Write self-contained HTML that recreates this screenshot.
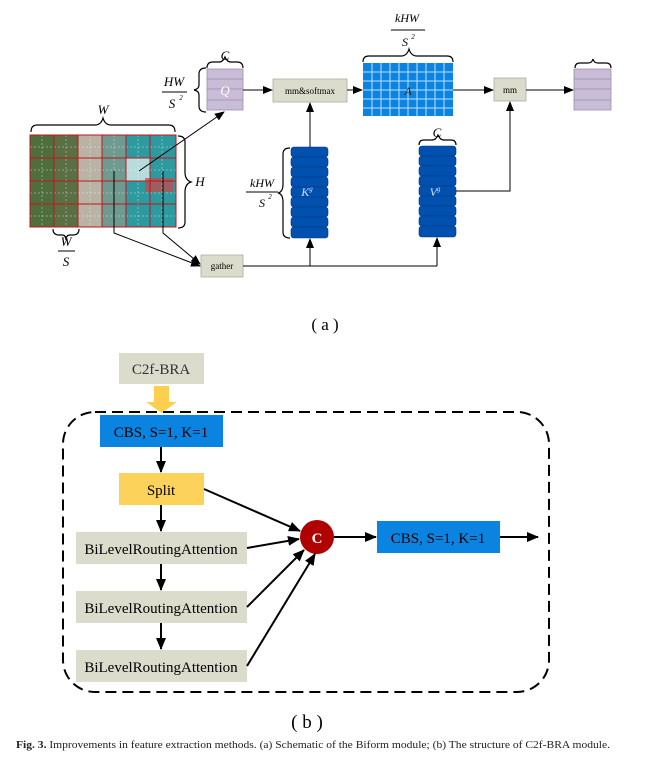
<!DOCTYPE html>
<html><head><meta charset="utf-8"><style>
html,body{margin:0;padding:0;background:#fff;}
svg{display:block;font-family:"Liberation Serif",serif;}
</style></head><body>
<svg width="647" height="763" viewBox="0 0 647 763" xmlns="http://www.w3.org/2000/svg">
<defs>
<marker id="ah" markerWidth="10" markerHeight="8" refX="9" refY="4" orient="auto" markerUnits="userSpaceOnUse"><path d="M0,0 L10,4 L0,8 z" fill="#000"/></marker>
<marker id="ah2" markerWidth="12" markerHeight="10" refX="11" refY="5" orient="auto" markerUnits="userSpaceOnUse"><path d="M0,0 L12,5 L0,10 z" fill="#000"/></marker>
</defs>
<!-- ===== (a) ===== -->
<rect x="30" y="135" width="24" height="92" fill="#4f6e3e"/>
<rect x="54" y="135" width="24" height="92" fill="#5b6f44"/>
<rect x="78" y="135" width="24" height="92" fill="#b9b3a6"/>
<rect x="102" y="135" width="24" height="92" fill="#6f9a8f"/>
<rect x="126" y="135" width="50" height="92" fill="#2d9aa0"/>
<rect x="126" y="158" width="24" height="23" fill="#b8dcdc"/>
<rect x="145" y="178" width="28" height="14" fill="#c44" opacity="0.7"/>
<g stroke="#fff" stroke-width="0.5" stroke-dasharray="2,2" opacity="0.7">
<line x1="42" y1="135" x2="42" y2="227"/><line x1="66" y1="135" x2="66" y2="227"/><line x1="90" y1="135" x2="90" y2="227"/><line x1="114" y1="135" x2="114" y2="227"/><line x1="138" y1="135" x2="138" y2="227"/><line x1="162" y1="135" x2="162" y2="227"/>
<line x1="30" y1="147" x2="176" y2="147"/><line x1="30" y1="170" x2="176" y2="170"/><line x1="30" y1="193" x2="176" y2="193"/><line x1="30" y1="216" x2="176" y2="216"/>
</g>
<g stroke="#c0161c" stroke-width="1" fill="none">
<rect x="30" y="135" width="146" height="92"/>
<line x1="54" y1="135" x2="54" y2="227"/><line x1="78" y1="135" x2="78" y2="227"/><line x1="102" y1="135" x2="102" y2="227"/><line x1="126" y1="135" x2="126" y2="227"/><line x1="150" y1="135" x2="150" y2="227"/>
<line x1="30" y1="158" x2="176" y2="158"/><line x1="30" y1="181" x2="176" y2="181"/><line x1="30" y1="204" x2="176" y2="204"/>
</g>
<g fill="none" stroke="#000" stroke-width="1.2">
<path d="M31,132 q0,-7 6,-7 h58 q6,0 8,-7 q2,7 8,7 h58 q6,0 6,7"/>
<path d="M178,136 q7,0 7,6 v30 q0,8 6,10 q-6,2 -6,10 v30 q0,6 -7,6"/>
<path d="M53,229 q0,6 6,6 h3 q4,0 4,5 q0,-5 4,-5 h3 q6,0 6,-6"/>
<path d="M206,68 q-7,0 -7,6 v11 q0,4 -5,5 q5,1 5,5 v11 q0,6 7,6"/>
<path d="M207,68 q0,-6 6,-6 h6 q4,0 6,-5 q2,5 6,5 h6 q6,0 6,6"/>
<path d="M290,148 q-7,0 -7,6 v30 q0,8 -5,9 q5,1 5,9 v30 q0,6 7,6"/>
<path d="M363,62 q0,-6 6,-6 h32 q6,0 8,-7 q2,7 8,7 h30 q6,0 6,6"/>
<path d="M419,145 q0,-5 5,-5 h8 q4,0 6,-5 q2,5 6,5 h7 q5,0 5,5"/>
<path d="M575,68 q0,-5 5,-5 h8 q4,0 5,-4 q1,4 5,4 h8 q5,0 5,5"/>
</g>
<g font-style="italic" font-size="13" text-anchor="middle">
<text x="103" y="114">W</text>
<text x="200" y="186">H</text>
<text x="66" y="246">W</text><line x1="58" y1="251" x2="75" y2="251" stroke="#000"/><text x="66" y="266">S</text>
<text x="174" y="86">HW</text><line x1="162" y1="92" x2="187" y2="92" stroke="#000"/><text x="172" y="108">S</text><text x="181" y="100" font-size="7">2</text>
<text x="225" y="60">C</text>
<text x="262" y="187" font-size="12">kHW</text><line x1="246" y1="192" x2="278" y2="192" stroke="#000"/><text x="262" y="207" font-size="12">S</text><text x="270" y="199" font-size="7">2</text>
<text x="407" y="22" font-size="12">kHW</text><line x1="391" y1="30" x2="425" y2="30" stroke="#000"/><text x="405" y="46" font-size="12">S</text><text x="413" y="39" font-size="7">2</text>
<text x="437" y="137">C</text>
</g>
<rect x="207" y="69" width="36" height="41" fill="#c8bcd6" stroke="#9a8fae" stroke-width="0.8"/>
<g stroke="#9a8fae" stroke-width="0.8"><line x1="207" y1="79" x2="243" y2="79"/><line x1="207" y1="89" x2="243" y2="89"/><line x1="207" y1="100" x2="243" y2="100"/></g>
<text x="225" y="95" font-style="italic" font-size="13" fill="#fff" text-anchor="middle">Q</text>
<rect x="574" y="69" width="37" height="41" fill="#c8bcd6" stroke="#9a8fae" stroke-width="0.8"/>
<g stroke="#9a8fae" stroke-width="0.8"><line x1="574" y1="79" x2="611" y2="79"/><line x1="574" y1="89" x2="611" y2="89"/><line x1="574" y1="100" x2="611" y2="100"/></g>
<rect x="273" y="79" width="74" height="23" fill="#dcdccc" stroke="#a8b0a0" stroke-width="0.8"/>
<text x="310" y="94" font-size="9" text-anchor="middle">mm&amp;softmax</text>
<rect x="494" y="78" width="32" height="23" fill="#dcdccc" stroke="#a8b0a0" stroke-width="0.8"/>
<text x="510" y="93" font-size="9" text-anchor="middle">mm</text>
<rect x="201" y="255" width="42" height="22" fill="#dcdccc" stroke="#a8b0a0" stroke-width="0.8"/>
<text x="222" y="269" font-size="9" text-anchor="middle">gather</text>
<rect x="363" y="63" width="90" height="53" fill="#0a84e0"/>
<g stroke="#bfe0f8" stroke-width="1">
<line x1="372" y1="63" x2="372" y2="116"/><line x1="381" y1="63" x2="381" y2="116"/><line x1="390" y1="63" x2="390" y2="116"/><line x1="399" y1="63" x2="399" y2="116"/><line x1="408" y1="63" x2="408" y2="116"/><line x1="417" y1="63" x2="417" y2="116"/><line x1="426" y1="63" x2="426" y2="116"/><line x1="435" y1="63" x2="435" y2="116"/><line x1="444" y1="63" x2="444" y2="116"/>
<line x1="363" y1="72" x2="453" y2="72"/><line x1="363" y1="81" x2="453" y2="81"/><line x1="363" y1="90" x2="453" y2="90"/><line x1="363" y1="99" x2="453" y2="99"/><line x1="363" y1="108" x2="453" y2="108"/>
</g>
<text x="408" y="95" font-style="italic" font-size="12" fill="#222" text-anchor="middle">A</text>
<g fill="#0050b0" stroke="#003a80" stroke-width="0.6">
<rect x="291" y="147" width="37" height="10" rx="3"/><rect x="291" y="157" width="37" height="10" rx="3"/><rect x="291" y="167" width="37" height="10" rx="3"/><rect x="291" y="177" width="37" height="10" rx="3"/><rect x="291" y="187" width="37" height="10" rx="3"/><rect x="291" y="197" width="37" height="10" rx="3"/><rect x="291" y="207" width="37" height="10" rx="3"/><rect x="291" y="217" width="37" height="10" rx="3"/><rect x="291" y="227" width="37" height="11" rx="3"/>
<rect x="419" y="146" width="37" height="10" rx="3"/><rect x="419" y="156" width="37" height="10" rx="3"/><rect x="419" y="166" width="37" height="10" rx="3"/><rect x="419" y="176" width="37" height="10" rx="3"/><rect x="419" y="186" width="37" height="10" rx="3"/><rect x="419" y="196" width="37" height="10" rx="3"/><rect x="419" y="206" width="37" height="10" rx="3"/><rect x="419" y="216" width="37" height="10" rx="3"/><rect x="419" y="226" width="37" height="11" rx="3"/>
</g>
<text x="307" y="196" font-style="italic" font-size="12" fill="#cfe0ff" text-anchor="middle">K<tspan font-size="7" dy="-5">g</tspan></text>
<text x="435" y="196" font-style="italic" font-size="12" fill="#cfe0ff" text-anchor="middle">V<tspan font-size="7" dy="-5">g</tspan></text>
<g stroke="#000" stroke-width="1" fill="none">
<line x1="139" y1="171" x2="224" y2="112" marker-end="url(#ah)"/>
<line x1="243" y1="90" x2="272" y2="90" marker-end="url(#ah)"/>
<line x1="347" y1="90" x2="362" y2="90" marker-end="url(#ah)"/>
<line x1="453" y1="90" x2="493" y2="90" marker-end="url(#ah)"/>
<line x1="526" y1="90" x2="573" y2="90" marker-end="url(#ah)"/>
<line x1="310" y1="147" x2="310" y2="103" marker-end="url(#ah)"/>
<polyline points="456,191 510,191 510,102" marker-end="url(#ah)"/>
<polyline points="114,171 114,233 200,266" marker-end="url(#ah)"/>
<polyline points="163,171 163,233 200,264" marker-end="url(#ah)"/>
<line x1="243" y1="266" x2="437" y2="266"/>
<line x1="310" y1="266" x2="310" y2="239" marker-end="url(#ah)"/>
<line x1="437" y1="266" x2="437" y2="238" marker-end="url(#ah)"/>
</g>
<text x="325" y="330" font-size="17" text-anchor="middle">( a )</text>
<!-- ===== (b) ===== -->
<rect x="119" y="353" width="85" height="31" fill="#dcdccc"/>
<text x="161" y="374" font-size="15" text-anchor="middle" fill="#333">C2f-BRA</text>
<rect x="154" y="386" width="15" height="17" fill="#fcd04e"/>
<path d="M146,402 L177,402 L161.5,413 z" fill="#fcd04e"/>
<rect x="63" y="412" width="486" height="280" rx="32" fill="none" stroke="#000" stroke-width="2" stroke-dasharray="11,6"/>
<rect x="100" y="415" width="123" height="32" fill="#0a84e0"/>
<text x="161" y="437" font-size="15" text-anchor="middle">CBS, S=1, K=1</text>
<rect x="119" y="473" width="85" height="32" fill="#fcd25a"/>
<text x="161" y="495" font-size="15" text-anchor="middle">Split</text>
<rect x="76" y="532" width="171" height="32" fill="#dcdccc"/>
<text x="161" y="554" font-size="15" text-anchor="middle">BiLevelRoutingAttention</text>
<rect x="76" y="591" width="171" height="32" fill="#dcdccc"/>
<text x="161" y="613" font-size="15" text-anchor="middle">BiLevelRoutingAttention</text>
<rect x="76" y="650" width="171" height="32" fill="#dcdccc"/>
<text x="161" y="672" font-size="15" text-anchor="middle">BiLevelRoutingAttention</text>
<circle cx="317" cy="537" r="17" fill="#b00000"/>
<text x="317" y="543" font-size="15" font-weight="bold" fill="#fff" text-anchor="middle">C</text>
<rect x="377" y="521" width="123" height="32" fill="#0a84e0"/>
<text x="438" y="543" font-size="15" text-anchor="middle">CBS, S=1, K=1</text>
<g stroke="#000" stroke-width="2" fill="none">
<line x1="161" y1="447" x2="161" y2="472" marker-end="url(#ah2)"/>
<line x1="161" y1="505" x2="161" y2="531" marker-end="url(#ah2)"/>
<line x1="161" y1="564" x2="161" y2="590" marker-end="url(#ah2)"/>
<line x1="161" y1="623" x2="161" y2="649" marker-end="url(#ah2)"/>
<line x1="204" y1="489" x2="300" y2="531" marker-end="url(#ah2)"/>
<line x1="247" y1="548" x2="299" y2="539" marker-end="url(#ah2)"/>
<line x1="247" y1="607" x2="304" y2="550" marker-end="url(#ah2)"/>
<line x1="247" y1="666" x2="315" y2="554" marker-end="url(#ah2)"/>
<line x1="334" y1="537" x2="376" y2="537" marker-end="url(#ah2)"/>
<line x1="500" y1="537" x2="538" y2="537" marker-end="url(#ah2)"/>
</g>
<text x="307" y="728" font-size="19" text-anchor="middle">( b )</text>
<text x="16" y="748" font-size="10.5" fill="#222" textLength="594" lengthAdjust="spacingAndGlyphs"><tspan font-weight="bold">Fig. 3.</tspan> Improvements in feature extraction methods. (a) Schematic of the Biform module; (b) The structure of C2f-BRA module.</text>
</svg>
</body></html>
